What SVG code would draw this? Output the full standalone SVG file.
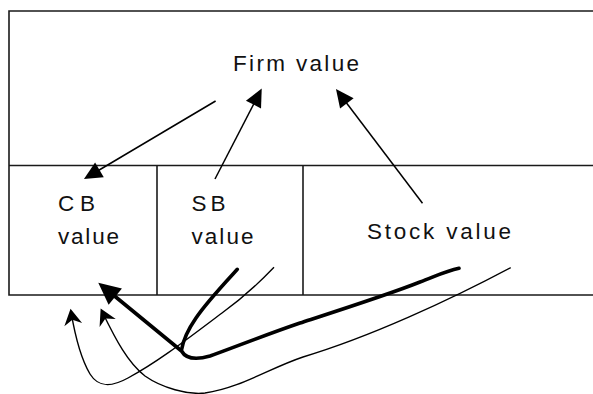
<svg xmlns="http://www.w3.org/2000/svg" width="593" height="394" viewBox="0 0 593 394">
  <style>
    .frame { stroke: #1a1a1a; stroke-width: 1.6; fill: none; }
    .label { font-family: "Liberation Sans", Arial, sans-serif; font-size: 22.5px; fill: #111; }
    .thin { stroke: #000; stroke-width: 1.5; fill: none; }
    .curve { stroke: #000; stroke-width: 1.4; fill: none; }
    .bold { stroke: #000; stroke-width: 3.6; fill: none; stroke-linejoin: round; stroke-linecap: round; }
  </style>
  <defs>
    <marker id="head" markerUnits="userSpaceOnUse" markerWidth="18" markerHeight="17" refX="14" refY="8.5" orient="auto" overflow="visible">
      <path d="M0,0 L18,8.5 L0,17 z" fill="#000"/>
    </marker>
    <marker id="head-bold" markerUnits="userSpaceOnUse" markerWidth="22" markerHeight="21" refX="12" refY="10.5" orient="auto" overflow="visible">
      <path d="M0,0 L22,10.5 L0,21 z" fill="#000"/>
    </marker>
    <marker id="head-barb" markerUnits="userSpaceOnUse" markerWidth="16" markerHeight="18" refX="12" refY="9" orient="auto" overflow="visible">
      <path d="M0,0 L16,9 L0,18 L5,9 z" fill="#000"/>
    </marker>
  </defs>

  <!-- outer frame, open to the right -->
  <g id="frame" class="frame">
    <path d="M593,11 L9,11 L9,295 L593,295"/>
    <line x1="9" y1="165.5" x2="593" y2="165.5"/>
  </g>

  <g id="firm">
    <text class="label" x="233" y="71" textLength="126" lengthAdjust="spacing">Firm value</text>
  </g>

  <g id="cb">
    <line class="frame" x1="157" y1="165.5" x2="157" y2="295"/>
    <text class="label" x="58" y="210.5" textLength="37" lengthAdjust="spacing">CB</text>
    <text class="label" x="58" y="244" textLength="61" lengthAdjust="spacing">value</text>
  </g>

  <g id="sb">
    <line class="frame" x1="303" y1="165.5" x2="303" y2="295"/>
    <text class="label" x="191.5" y="210.5" textLength="34" lengthAdjust="spacing">SB</text>
    <text class="label" x="191.5" y="244" textLength="62" lengthAdjust="spacing">value</text>
  </g>

  <g id="stock">
    <text class="label" x="367" y="238.5" textLength="144" lengthAdjust="spacing">Stock value</text>
  </g>

  <g id="connectors">
    <!-- firm value split into its claims -->
    <path class="thin" d="M215.6,101 L87.4,177" marker-end="url(#head)"/>
    <path class="thin" d="M215,179 L259.9,92.1" marker-end="url(#head)"/>
    <path class="thin" d="M422.5,203.3 L338.4,92.2" marker-end="url(#head)"/>

    <!-- bold: stock and SB value feeding CB value -->
    <path class="bold" d="M459,268.3 C446,271 436,276 420,282 C390,294 340,310 300,323 C262,336 230,349 210,356 C196,360 186,359 181.5,351 L106,289" marker-end="url(#head-bold)"/>
    <path class="bold" d="M237.3,269.3 C222,286 206,303 196,318 C187,331 183,341 181.5,350" stroke-width="3.2"/>

    <!-- thin return curves -->
    <path class="curve" d="M274,267.3 C258,284 240,300 222,313 C190,337 158,362 128,378 C110,388 98,387 90,374 C80,357 75,335 71.2,312.8" marker-end="url(#head-barb)"/>
    <path class="curve" d="M510.7,267.7 C450,300 370,337 303,357 C270,368 240,388 205,393 C188,395 162,388 145,376 C128,363 116,340 102.4,312.2" marker-end="url(#head-barb)"/>
  </g>
</svg>
